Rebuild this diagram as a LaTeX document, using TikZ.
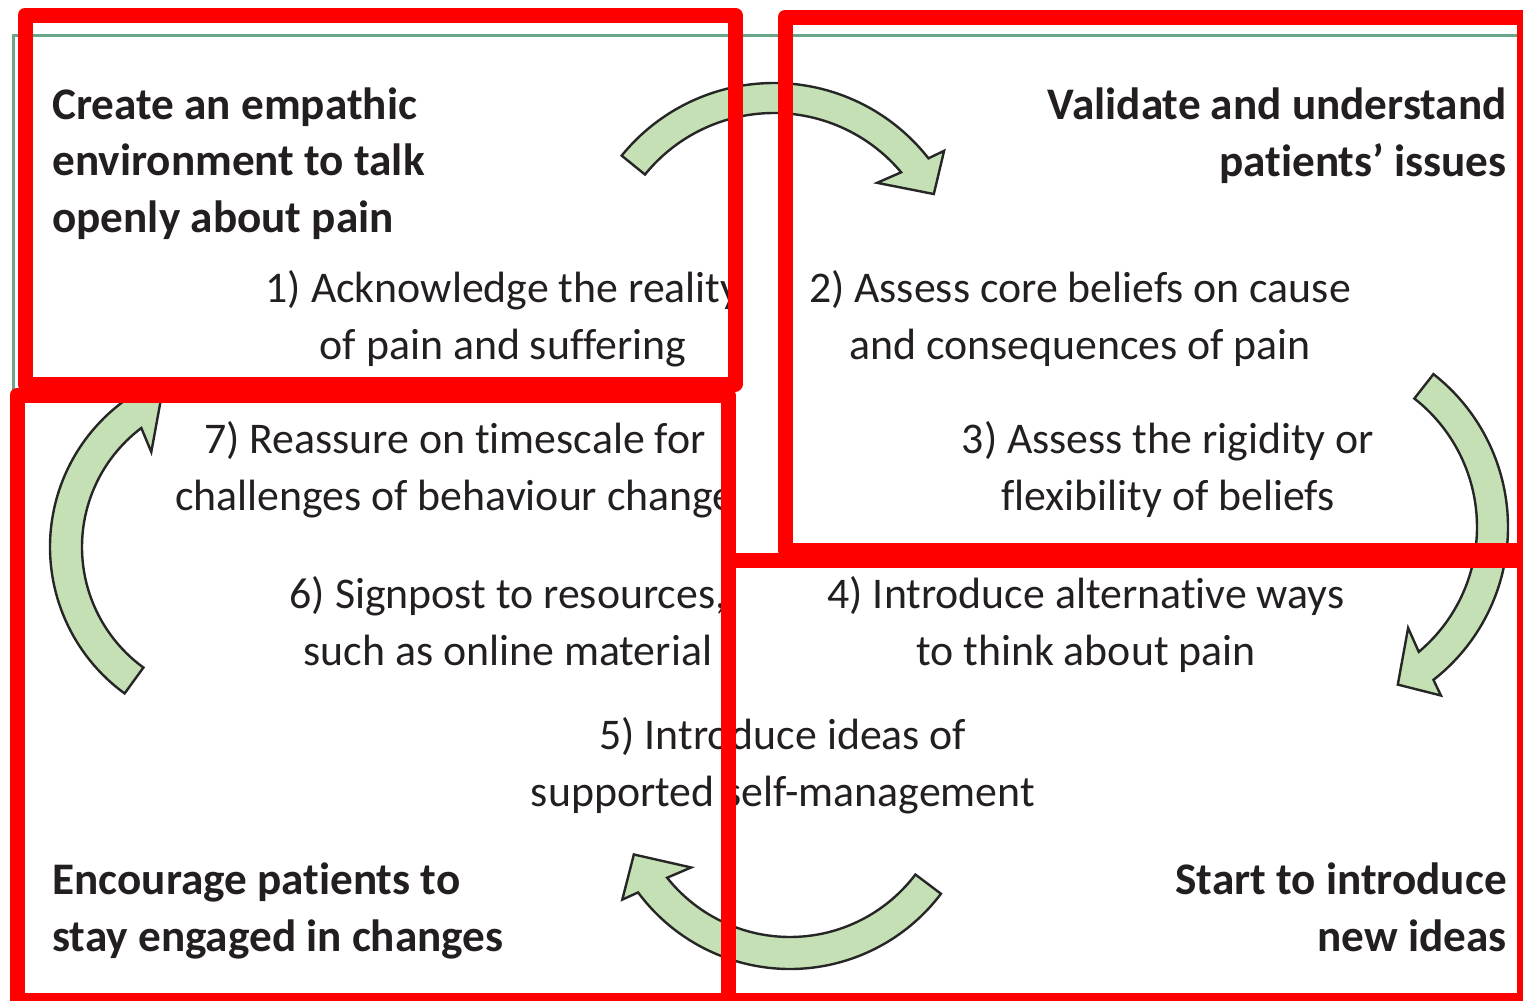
\documentclass[tikz,border=0pt]{standalone}
\usepackage{fontspec}
\setmainfont{Carlito}[RawFeature={-liga;-calt;-dlig;-clig}]
\definecolor{rahmengruen}{RGB}{104,168,136}
\definecolor{pfeilgruen}{RGB}{197,224,180}
\definecolor{schrift}{RGB}{35,31,32}
\newcommand{\groesse}{\fontsize{21.9}{28.25}\selectfont}
\newcommand{\titelgroesse}{\fontsize{22.6}{28.25}\selectfont}
\begin{document}
\begin{tikzpicture}[x=0.5pt, y=-0.5pt,
    kasten/.style={draw=red, line width=7.5pt, line join=round},
    pfeil/.style={draw=black!85, fill=pfeilgruen, line width=1.2pt, line join=miter},
    titel/.style={font=\titelgroesse\bfseries, inner sep=0pt},
    schritt/.style={align=center, inner sep=0pt},
    font=\groesse, text=schrift]
    % Bildbereich festlegen
    \useasboundingbox (0,0) rectangle (1523,1001);
    % duenner Rahmen
    \draw[rahmengruen, line width=1.5pt] (13,1001) -- (13,35) -- (1523,35);
    % gebogene Pfeile: Mitte x/y, Innenradius, Aussenradius, Ende, Spitzenansatz, Spitze
    \foreach \cx/\cy/\ri/\ro/\ta/\ba/\sa in {774/279/166/196/-141/-38/-28,
        1314/527/163/194/-52/52/62, 790/780/157/189/37/143.5/154.5,
        231/547/149/181/126/235/245}
      \draw[pfeil, shift={(\cx,\cy)}] (\ta:\ro) arc[start angle=\ta, end angle=\ba, radius=\ro]
        -- ({\ba+1}:{\ro+17}) -- (\sa:{(\ri+\ro)/2}) -- ({\ba-5}:{\ri-25}) -- ({\ba-2}:\ri)
        arc[start angle=\ba-2, end angle=\ta, radius=\ri] -- cycle;
    % Ueberschriften (Grundlinie der letzten Zeile)
    \node[titel, align=left, anchor=base west] (klima) at (52,232) {Create an empathic\\environment to talk\\openly about pain};
    \node[titel, align=right, anchor=base east] (validieren) at (1507,176) {Validate and understand\\patients’ issues};
    \node[titel, align=left, anchor=base west] (ermutigen) at (52,951) {Encourage patients to\\stay engaged in changes};
    \node[titel, align=right, anchor=base east] (ideen) at (1507,951) {Start to introduce\\new ideas};
    % Schritte
    \node[schritt, anchor=base] (s1) at (503,359) {1) Acknowledge the reality\\of pain and suffering};
    \node[schritt, anchor=base] (s2) at (1080,359) {2) Assess core beliefs on cause\\and consequences of pain};
    \node[schritt, anchor=base] (s3) at (1168,510) {3) Assess the rigidity or\\flexibility of beliefs};
    \node[schritt, anchor=base] (s4) at (1086,665) {4) Introduce alternative ways\\to think about pain};
    \node[schritt, anchor=base] (s5) at (783,806) {5) Introduce ideas of\\supported self-management};
    \node[schritt, anchor=base] (s6) at (508,665) {6) Signpost to resources,\\such as online material};
    \node[schritt, anchor=base] (s7) at (455,510) {7) Reassure on timescale for\\challenges of behaviour change};
    % rote Kaesten
    \draw[kasten] (25,15) rectangle (735,384);
    \draw[kasten] (785,17) rectangle (1524,550);
    \draw[kasten] (17,395) rectangle (728,1000);
    \draw[kasten] (728,560) rectangle (1524,1000);
\end{tikzpicture}
\end{document}
